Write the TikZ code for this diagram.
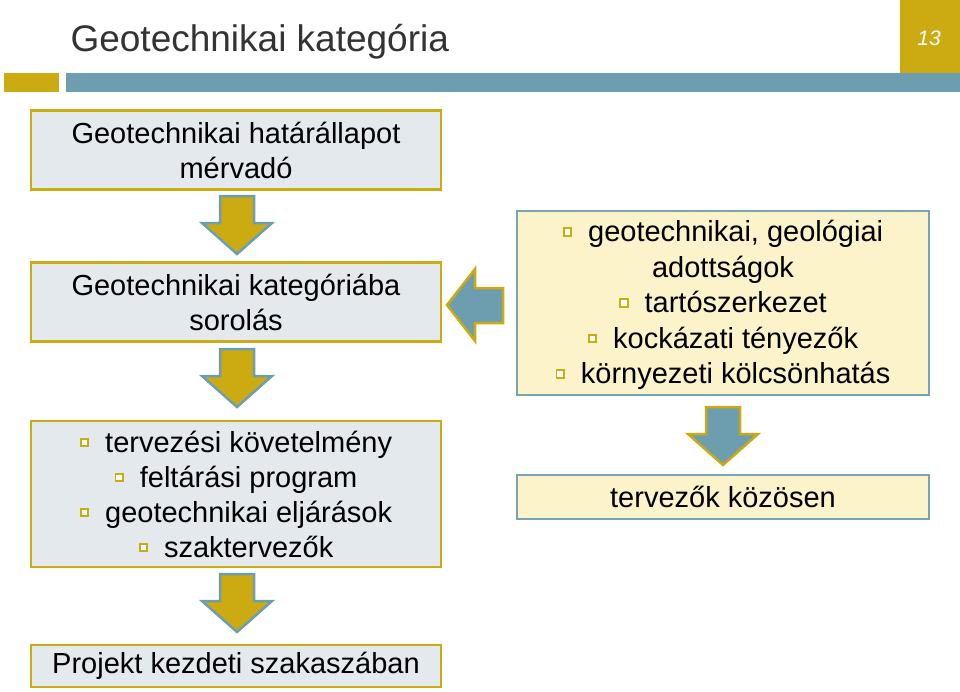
\documentclass[tikz,border=0pt]{standalone}
\usepackage{fontspec}
\setmainfont{Liberation Sans}
\usetikzlibrary{calc}
\definecolor{gold}{RGB}{204,170,17}
\definecolor{teal}{RGB}{108,158,176}
\definecolor{lbox}{RGB}{228,233,238}
\definecolor{ybox}{RGB}{252,243,202}
\definecolor{tealb}{RGB}{120,163,182}
\newcommand{\bul}{\raisebox{5pt}{\tikz\draw[gold,line width=1.8pt,fill=white!90!ybox] (0,0) rectangle (7.5pt,7.5pt);}\hspace{16pt}}
\tikzset{
  lb/.style={draw=gold,line width=2.5pt,fill=lbox,inner sep=0pt,align=center,font=\fontsize{29}{35}\selectfont},
  rb/.style={draw=tealb,line width=2.5pt,fill=ybox,inner sep=0pt,align=center,font=\fontsize{29}{35.5}\selectfont},
  garrow/.style={draw=teal,line width=2.5pt,fill=gold,line join=miter},
  tarrow/.style={draw=gold,line width=2.5pt,fill=teal,line join=miter}
}
\newcommand{\downarrowshape}[3]{% x, top y, style
  \filldraw[#3] (#1-17,#2) -- (#1+17,#2) -- (#1+17,#2+27) -- (#1+35,#2+27) -- (#1,#2+58) -- (#1-35,#2+27) -- (#1-17,#2+27) -- cycle;}
\begin{document}
\begin{tikzpicture}[x=1pt,y=-1pt]
\useasboundingbox (0,0) rectangle (960,691);
\fill[white] (0,0) rectangle (960,691);
% header
\node[anchor=west,font=\fontsize{37}{40}\selectfont,text=black!80] (title) at (67,42) {Geotechnikai kategória};
\fill[gold] (900,0) rectangle (960,73);
\node[font=\fontsize{21}{24}\selectfont\itshape,text=white] (num) at (929,38) {13};
\fill[gold] (4,73) rectangle (59,92);
\fill[teal] (66,73) rectangle (960,92);
% left boxes
\node[lb,minimum width=410,minimum height=79] (b1) at (236,150) {Geotechnikai határállapot\\mérvadó};
\node[lb,minimum width=410,minimum height=79] (b2) at (236,302) {Geotechnikai kategóriába\\sorolás};
\node[lb,minimum width=410,minimum height=146] (b3) at (236,494) {\bul tervezési követelmény\\\bul feltárási program\\\bul geotechnikai eljárások\\\bul szaktervezők};
\node[lb,minimum width=410,minimum height=42] (b4) at (236,666) {Projekt kezdeti szakaszában};
% right boxes
\node[rb,minimum width=412,minimum height=184] (r1) at (723,303) {};
\node[rb,fill=none,draw=none] (r1t) at (723,305) {\bul geotechnikai, geológiai\\adottságok\\\bul tartószerkezet\\\bul kockázati tényezők\\\bul környezeti kölcsönhatás};
\node[rb,minimum width=412,minimum height=44] (r2) at (723,497) {tervezők közösen};
% arrows
\downarrowshape{237}{196}{garrow}
\downarrowshape{237}{349}{garrow}
\downarrowshape{237}{574}{garrow}
\downarrowshape{723}{407}{tarrow}
\filldraw[tarrow] (503,288) -- (503,323) -- (475,323) -- (475,341) -- (447,305) -- (475,269) -- (475,288) -- cycle;
\end{tikzpicture}
\end{document}
